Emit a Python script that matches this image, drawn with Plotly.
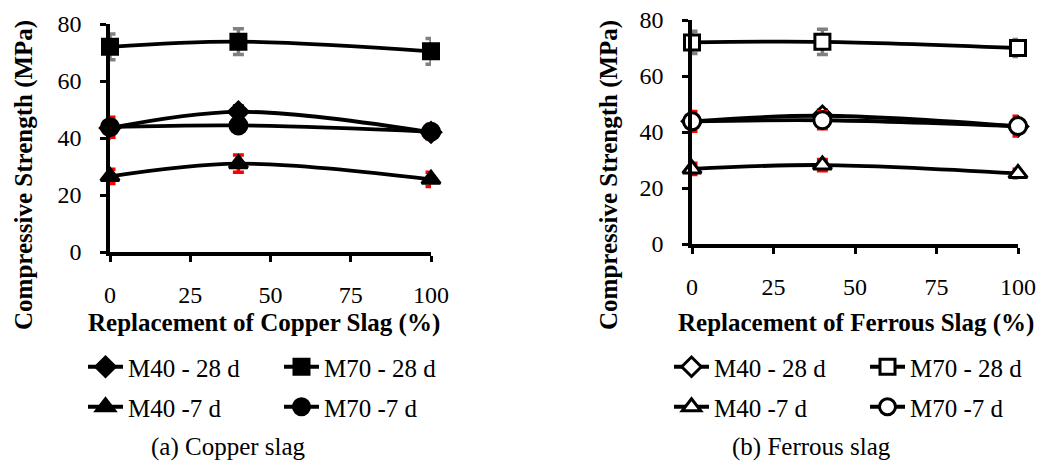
import plotly.graph_objects as go

# Replacement level of slag (%)
replacement = [0, 40, 100]

# Copper slag concrete: compressive strength (MPa)
cu_m40_28 = [43.5, 49.2, 42.0]
cu_m70_28 = [72.0, 73.8, 70.4]
cu_m40_7 = [26.5, 31.0, 25.5]
cu_m70_7 = [43.8, 44.4, 42.2]

# Ferrous slag concrete: compressive strength (MPa)
fe_m40_28 = [43.8, 45.8, 42.0]
fe_m70_28 = [72.0, 72.2, 70.0]
fe_m40_7 = [26.8, 28.2, 25.2]
fe_m70_7 = [43.8, 44.2, 42.1]

# Standard deviations
cu_err_m40_28 = [2.0, 2.0, 1.5]
cu_err_m70_28 = [4.5, 4.5, 4.5]
cu_err_m40_7 = [2.5, 3.0, 2.5]
cu_err_m70_7 = [3.5, 2.0, 2.5]
fe_err_m40_28 = [2.0, 2.0, 1.5]
fe_err_m70_28 = [4.0, 4.5, 3.0]
fe_err_m40_7 = [2.0, 2.0, 1.5]
fe_err_m70_7 = [3.5, 3.0, 3.5]

series_names = ["M40 - 28 d", "M70 - 28 d", "M40 -7 d", "M70 -7 d"]
x_ticks = [0, 25, 50, 75, 100]
y_ticks = [0, 20, 40, 60, 80]

FONT = "Liberation Serif, Times New Roman, serif"
W, H = 1041, 461

fig = go.Figure()

panels = [
    dict(xa="x", ya="y", vals=[cu_m40_28, cu_m70_28, cu_m40_7, cu_m70_7],
         errs=[cu_err_m40_28, cu_err_m70_28, cu_err_m40_7, cu_err_m70_7],
         fill="black", legends=["legend", "legend", "legend2", "legend2"]),
    dict(xa="x2", ya="y2", vals=[fe_m40_28, fe_m70_28, fe_m40_7, fe_m70_7],
         errs=[fe_err_m40_28, fe_err_m70_28, fe_err_m40_7, fe_err_m70_7],
         fill="white", legends=["legend3", "legend3", "legend4", "legend4"]),
]
symbols = ["diamond", "square", "triangle-up", "circle"]
sizes = [15, 15, 16, 17]
err_colors = ["black", "#808080", "red", "red"]

for p in panels:
    for i in range(4):
        fig.add_trace(go.Scatter(
            x=replacement, y=p["vals"][i], name=series_names[i],
            xaxis=p["xa"], yaxis=p["ya"], legend=p["legends"][i],
            mode="lines+markers",
            line=dict(color="black", width=3.8, shape="spline", smoothing=1),
            marker=dict(symbol=symbols[i], size=sizes[i], color=p["fill"],
                        line=dict(color="black", width=3)),
            error_y=dict(type="data", array=p["errs"][i], color=err_colors[i],
                         thickness=3.5, width=5.5),
            cliponaxis=False,
        ))

axis_common = dict(
    showline=True, linecolor="black", linewidth=3.5, ticks="outside",
    ticklen=6, tickwidth=3, tickcolor="black", showgrid=False, zeroline=False,
    tickfont=dict(family=FONT, size=24, color="black"),
)

fig.update_layout(
    width=W, height=H,
    margin=dict(l=0, r=0, t=0, b=0, autoexpand=False),
    paper_bgcolor="white", plot_bgcolor="white",
    xaxis=dict(domain=[110 / W, 431 / W], range=[0, 100], tickvals=x_ticks,
               anchor="y", ticklabelstandoff=12, **axis_common),
    yaxis=dict(domain=[1 - 252 / H, 1 - 24 / H], range=[0, 80], tickvals=y_ticks,
               anchor="x", ticklabelstandoff=14, **axis_common),
    xaxis2=dict(domain=[692 / W, 1018 / W], range=[0, 100], tickvals=x_ticks,
                anchor="y2", ticklabelstandoff=12, **axis_common),
    yaxis2=dict(domain=[1 - 244 / H, 1 - 20 / H], range=[0, 80], tickvals=y_ticks,
                anchor="x2", ticklabelstandoff=14, **axis_common),
    showlegend=True,
)

legend_common = dict(orientation="h", xanchor="left", yanchor="middle",
                     font=dict(family=FONT, size=25, color="black"),
                     bgcolor="rgba(0,0,0,0)", entrywidth=146, entrywidthmode="pixels",
                     itemwidth=35, tracegroupgap=0)
fig.update_layout(
    legend=dict(x=83 / W, y=1 - 367 / H, **legend_common),
    legend2=dict(x=83 / W, y=1 - 407 / H, **legend_common),
    legend3=dict(x=669 / W, y=1 - 367 / H, **legend_common),
    legend4=dict(x=669 / W, y=1 - 407 / H, **legend_common),
)

texts = [
    ("<b>Replacement of Copper Slag (%)</b>", 264, 323),
    ("<b>Replacement of Ferrous Slag (%)</b>", 856, 323),
    ("(a) Copper slag", 228, 447),
    ("(b) Ferrous slag", 811, 447),
]
for txt, px, py in texts:
    fig.add_annotation(text=txt, x=px / W, y=1 - py / H, xref="paper", yref="paper",
                       showarrow=False, xanchor="center", yanchor="middle",
                       font=dict(family=FONT, size=25, color="black"))
for px in [24, 609]:
    fig.add_annotation(text="<b>Compressive Strength (MPa)</b>", x=px / W, y=1 - 175 / H,
                       xref="paper", yref="paper", showarrow=False, textangle=-90,
                       xanchor="center", yanchor="middle",
                       font=dict(family=FONT, size=25, color="black"))

fig.write_html("out.html")
